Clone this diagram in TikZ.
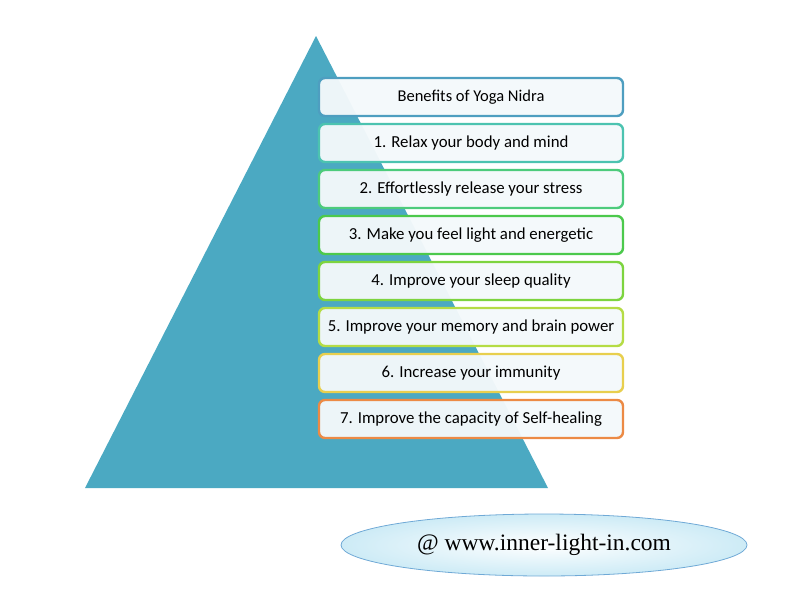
\documentclass[tikz,border=0pt]{standalone}
\usepackage{fontspec}
\setmainfont{Carlito}
\newfontfamily\webfont{Liberation Serif}
\usetikzlibrary{shapes.geometric}
\definecolor{pyramid}{HTML}{4BA9C2}
\definecolor{boxfill}{HTML}{F4F9FB}
\definecolor{c0}{HTML}{4E9EC0}
\definecolor{c1}{HTML}{4CC3B0}
\definecolor{c2}{HTML}{4DCB7C}
\definecolor{c3}{HTML}{4CC94C}
\definecolor{c4}{HTML}{7DD43F}
\definecolor{c5}{HTML}{B5DC45}
\definecolor{c6}{HTML}{E8CF4E}
\definecolor{c7}{HTML}{EC8A45}
\definecolor{ovalfill}{HTML}{CDEBF6}
\definecolor{ovaldraw}{HTML}{6FA9D6}
\tikzset{
  benefit/.style={draw=#1, line width=2.4pt, fill=boxfill, fill opacity=0.96, text opacity=1,
    rounded corners=6pt, minimum width=304pt, minimum height=38pt,
    font=\fontsize{16.8}{18}\selectfont},
}
\begin{document}
\begin{tikzpicture}[x=1pt, y=-1pt]
  \useasboundingbox (0,0) rectangle (800,600);
  % Pyramid
  \fill[pyramid] (316,36) -- (548,488) -- (85,488) -- cycle;
  % Boxes
  \node[benefit=c0, font=\fontsize{16.5}{18}\selectfont] (title) at (471,97) {Benefits of Yoga Nidra};
  \foreach \i/\txt in {1/Relax your body and mind, 2/Effortlessly release your stress,
      3/Make you feel light and energetic, 4/Improve your sleep quality,
      5/Improve your memory and brain power, 6/Increase your immunity,
      7/Improve the capacity of Self-healing}
    \node[benefit=c\i] (b\i) at (471,97+46*\i) {\i. \txt};
  % Web address
  \node[ellipse, draw=ovaldraw, line width=0.8pt, inner color=white, outer color=ovalfill,
    minimum width=406pt, minimum height=62pt, font=\webfont\fontsize{23.5}{26}\selectfont]
    (web) at (544,545) {@ www.inner-light-in.com};
\end{tikzpicture}
\end{document}
